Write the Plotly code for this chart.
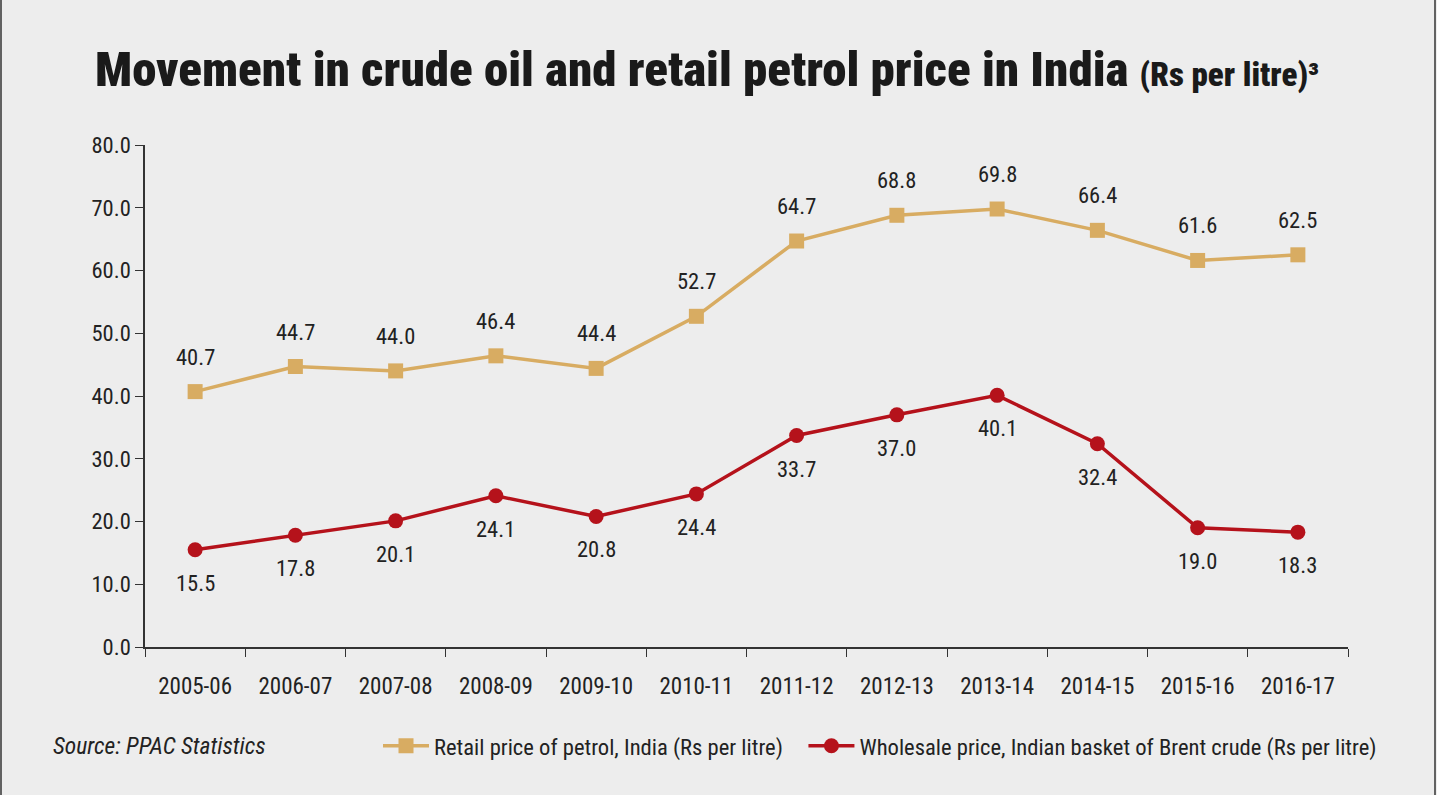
import plotly.graph_objects as go

# data
years = ['2005-06', '2006-07', '2007-08', '2008-09', '2009-10', '2010-11',
         '2011-12', '2012-13', '2013-14', '2014-15', '2015-16', '2016-17']
retail = [40.7, 44.7, 44.0, 46.4, 44.4, 52.7, 64.7, 68.8, 69.8, 66.4, 61.6, 62.5]
wholesale = [15.5, 17.8, 20.1, 24.1, 20.8, 24.4, 33.7, 37.0, 40.1, 32.4, 19.0, 18.3]

W, H = 1437, 795
ML, MR, MT, MB = 145, 89, 145, 148
pw = W - ML - MR
ph = H - MT - MB
bg = '#ededed'
tan = '#d8ac62'
red = '#b5121b'
font = 'Roboto Condensed, Liberation Sans Narrow, sans-serif'


def px_x(p):
    # pixel column -> paper x
    return (p - ML) / pw


def px_y(p):
    # pixel row -> paper y
    return (H - MB - p) / ph


fig = go.Figure()
fig.add_trace(go.Scatter(x=years, y=retail, mode='lines+markers',
                         name='Retail price of petrol, India (Rs per litre)\u00a0\u00a0\u00a0',
                         line=dict(color=tan, width=3.5),
                         marker=dict(symbol='square', size=15, color=tan)))
fig.add_trace(go.Scatter(x=years, y=wholesale, mode='lines+markers',
                         name='Wholesale price, Indian basket of Brent crude (Rs per litre)',
                         line=dict(color=red, width=3.5),
                         marker=dict(symbol='circle', size=15, color=red)))

anns = []
for x, y in zip(years, retail):
    anns.append(dict(x=x, y=y, text='%.1f' % y, showarrow=False, yshift=35,
                     font=dict(size=22.5, color='#222')))
for x, y in zip(years, wholesale):
    anns.append(dict(x=x, y=y, text='%.1f' % y, showarrow=False, yshift=-33,
                     font=dict(size=22.5, color='#222')))

# title and source
anns.append(dict(xref='paper', yref='paper', x=px_x(93), y=px_y(70),
                 text='Movement in crude oil and retail petrol price in India '
                      '<span style="font-size:33px">(Rs per litre)³</span>',
                 showarrow=False, xanchor='left', yanchor='middle',
                 font=dict(size=49, color='#1a1a1a', family=font, weight=900)))
anns.append(dict(xref='paper', yref='paper', x=px_x(51), y=px_y(746),
                 text='<i>Source: PPAC Statistics</i>', showarrow=False,
                 xanchor='left', yanchor='middle', font=dict(size=23.5, color='#222')))

# frame lines at the left and right edges
shapes = []
for p in (1, W - 2):
    shapes.append(dict(type='line', xref='paper', yref='paper',
                       x0=px_x(p), x1=px_x(p), y0=px_y(H), y1=px_y(0),
                       line=dict(color='#333', width=1.5)))

fig.update_layout(
    width=W, height=H,
    margin=dict(l=ML, r=MR, t=MT, b=MB),
    paper_bgcolor=bg, plot_bgcolor=bg,
    font=dict(family=font, size=23, color='#222'),
    showlegend=True,
    legend=dict(orientation='h', x=px_x(378), xanchor='left',
                y=px_y(746), yanchor='middle',
                font=dict(size=22.6), itemwidth=46, tracegroupgap=0,
                bgcolor='rgba(0,0,0,0)'),
    annotations=anns,
    shapes=shapes,
)
fig.update_xaxes(type='category', showline=True, linecolor='#333', linewidth=1.5,
                 ticks='outside', tickson='boundaries', ticklen=8, tickcolor='#333',
                 showgrid=False, zeroline=False, range=[-0.5, 11.5],
                 tickfont=dict(size=23), ticklabelstandoff=18)
fig.update_yaxes(range=[0, 80], dtick=10, tickformat='.1f', showline=True,
                 linecolor='#333', linewidth=1.5, ticks='outside', ticklen=8,
                 tickcolor='#333', showgrid=False, zeroline=False,
                 tickfont=dict(size=22.5))

fig.write_html('out.html', config={'displayModeBar': False},
               post_script="document.body.style.margin='0';")
